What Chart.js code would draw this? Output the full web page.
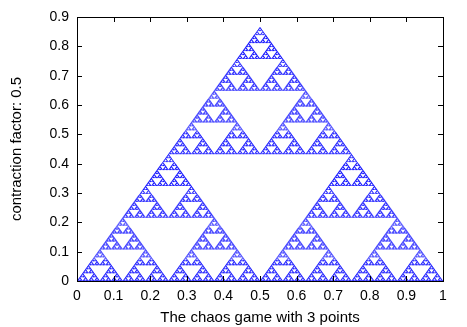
<!DOCTYPE html>
<html><head><meta charset="utf-8">
<script src="https://cdn.jsdelivr.net/npm/chart.js@4/dist/chart.umd.min.js"></script>
<style>html,body{margin:0;padding:0;background:#fff}#wrap{width:467px;height:327px}</style>
</head><body><div id="wrap"><canvas id="c" width="467" height="327"></canvas></div>
<script>
// Chaos game setup
const vertexX = [0, 1, 0.5];
const vertexY = [0, 0, 0.866];
const contractionFactor = [0.5];
const xTickValues = [0, 0.1, 0.2, 0.3, 0.4, 0.5, 0.6, 0.7, 0.8, 0.9, 1];
const yTickValues = [0, 0.1, 0.2, 0.3, 0.4, 0.5, 0.6, 0.7, 0.8, 0.9];
const xTitle = 'The chaos game with 3 points';
const yTitle = 'contraction factor: 0.5';

// Deterministic enumeration of the game's attractor (every move sequence of fixed length)
const pts = [];
const c = contractionFactor[0];
function play(x, y, depth) {
  if (depth === 0) { pts.push({x: x, y: y}); return; }
  for (let i = 0; i < vertexX.length; i++) {
    play(x + (vertexX[i] - x) * c, y + (vertexY[i] - y) * c, depth - 1);
  }
}
play(0.5, 0.2887, 8);

const fmt = v => String(+v.toFixed(1));
const TICKFONT = {family: '"Liberation Sans", Arial, sans-serif', size: 14};
const TITLEFONT = {family: '"Liberation Sans", Arial, sans-serif', size: 15};

const frame = {
  id: 'frame',
  afterDraw(chart) {
    const ctx = chart.ctx, a = chart.chartArea;
    const xs = chart.scales.x, ys = chart.scales.y;
    ctx.save();
    ctx.strokeStyle = '#000'; ctx.lineWidth = 1;
    ctx.strokeRect(Math.round(a.left) + 0.5, Math.round(a.top) + 0.5,
                   Math.round(a.right - a.left), Math.round(a.bottom - a.top));
    const L = 5;
    ctx.beginPath();
    xTickValues.forEach(v => {
      const px = Math.round(xs.getPixelForValue(v)) + 0.5;
      ctx.moveTo(px, a.bottom); ctx.lineTo(px, a.bottom - L);
      ctx.moveTo(px, a.top); ctx.lineTo(px, a.top + L);
    });
    yTickValues.forEach(v => {
      const py = Math.round(ys.getPixelForValue(v)) + 0.5;
      ctx.moveTo(a.left, py); ctx.lineTo(a.left + L, py);
      ctx.moveTo(a.right, py); ctx.lineTo(a.right - L, py);
    });
    ctx.stroke();
    ctx.restore();
  }
};

new Chart(document.getElementById('c'), {
  type: 'scatter',
  data: { datasets: [{
    data: pts,
    pointRadius: 0.7,
    pointHoverRadius: 0.7,
    borderWidth: 0,
    backgroundColor: 'rgba(0,0,255,0.9)',
    pointBorderColor: 'rgba(0,0,0,0)'
  }]},
  options: {
    responsive: false,
    animation: false,
    events: [],
    layout: { padding: { left: 8, right: 24, top: 17, bottom: 0 } },
    plugins: { legend: { display: false }, tooltip: { enabled: false } },
    scales: {
      x: {
        type: 'linear', min: 0, max: 1,
        afterBuildTicks: s => { s.ticks = xTickValues.map(v => ({value: v})); },
        afterFit: s => { s.height = 46; },
        grid: { display: false, drawTicks: false },
        border: { display: false },
        ticks: { callback: fmt, color: '#000', font: TICKFONT, padding: 7, maxRotation: 0, autoSkip: false },
        title: { display: true, text: xTitle, color: '#000', font: TITLEFONT, padding: { top: 3, bottom: 0 } }
      },
      y: {
        type: 'linear', min: 0, max: 0.9,
        afterBuildTicks: s => { s.ticks = yTickValues.map(v => ({value: v})); },
        afterFit: s => { s.width = 69; },
        grid: { display: false, drawTicks: false },
        border: { display: false },
        ticks: { callback: fmt, color: '#000', font: TICKFONT, padding: 8, autoSkip: false },
        title: { display: true, text: yTitle, color: '#000', font: TITLEFONT, padding: { top: 0, bottom: 6 } }
      }
    }
  },
  plugins: [frame]
});
</script></body></html>
